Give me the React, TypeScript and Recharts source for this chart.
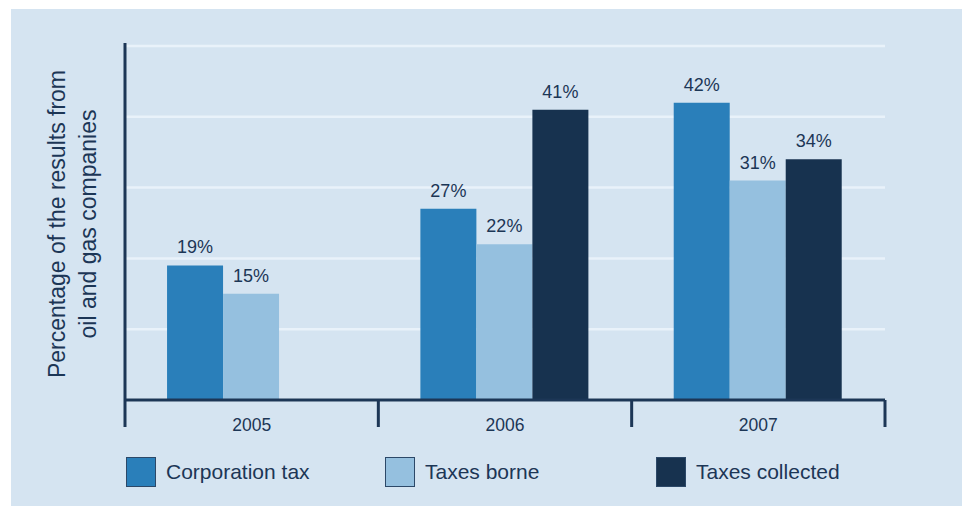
import { BarChart, Bar, XAxis, YAxis, CartesianGrid, LabelList } from 'recharts';

const years = ['2005', '2006', '2007'];
const corporationTax = [19, 27, 42];
const taxesBorne = [15, 22, 31];
const taxesCollected: (number | null)[] = [null, 41, 34];
const yTicks = [0, 10, 20, 30, 40, 50];

const seriesNames = ['Corporation tax', 'Taxes borne', 'Taxes collected'];
const colors = ['#2a7fba', '#95c0df', '#17324f'];

const data = years.map((year, i) => ({
  year,
  corp: corporationTax[i],
  borne: taxesBorne[i],
  collected: taxesCollected[i],
}));

const INK = '#1c3656';
const FONT = '"Liberation Sans", Arial, Helvetica, sans-serif';
const W = 951;
const H = 497;
const PLOT_LEFT = 114;
const PLOT_RIGHT = 874;
const AXIS_Y = 391;
const BAND = (PLOT_RIGHT - PLOT_LEFT) / years.length;

const YearTick = (props: any) => {
  const { x, payload, index } = props;
  return (
    <g>
      {index === 0 && (
        <line x1={x - BAND / 2} x2={x - BAND / 2} y1={34} y2={AXIS_Y + 27} stroke={INK} strokeWidth={3} />
      )}
      <line x1={x + BAND / 2} x2={x + BAND / 2} y1={AXIS_Y} y2={AXIS_Y + 27} stroke={INK} strokeWidth={3} />
      <text x={x} y={AXIS_Y + 31} textAnchor="middle" fontSize={17.5} fill={INK} fontFamily={FONT}>
        {payload.value}
      </text>
    </g>
  );
};

const pct = (v: any) => (v == null ? '' : `${v}%`);

export default function App() {
  const keys = ['corp', 'borne', 'collected'];
  return (
    <div
      style={{
        position: 'absolute',
        left: 11,
        top: 9,
        width: W,
        height: H,
        background: '#d5e4f1',
        fontFamily: FONT,
      }}
    >
      <BarChart
        width={W}
        height={H}
        data={data}
        margin={{ top: 37, right: W - PLOT_RIGHT, left: PLOT_LEFT, bottom: 66 }}
        barGap={0}
        barCategoryGap="16.6%"
      >
        <CartesianGrid vertical={false} horizontalValues={yTicks} stroke="#e9f2fa" strokeWidth={2.5} />
        <YAxis
          width={0}
          domain={[0, 50]}
          ticks={yTicks}
          axisLine={false}
          tickLine={false}
          tick={() => <g />}
        />
        <XAxis
          dataKey="year"
          height={40}
          axisLine={{ stroke: INK, strokeWidth: 3 }}
          tickLine={false}
          tick={<YearTick />}
          interval={0}
        />
        {keys.map((k, i) => (
          <Bar key={k} dataKey={k} fill={colors[i]} isAnimationActive={false}>
            <LabelList
              dataKey={k}
              position="top"
              offset={12}
              formatter={pct}
              style={{ fontSize: 18, fill: INK, fontFamily: FONT }}
            />
          </Bar>
        ))}
      </BarChart>

      <div
        style={{
          position: 'absolute',
          left: 72.5 - 11 - 220,
          top: 224 - 9 - 31,
          width: 440,
          height: 62,
          transform: 'rotate(-90deg)',
          textAlign: 'center',
          fontSize: 23,
          lineHeight: '31px',
          color: INK,
        }}
      >
        Percentage of the results from
        <br />
        oil and gas companies
      </div>

      {seriesNames.map((name, i) => {
        const lefts = [126, 385, 656];
        return (
          <div
            key={name}
            style={{
              position: 'absolute',
              left: lefts[i] - 11,
              top: 456 - 9,
              display: 'flex',
              alignItems: 'center',
              height: 31,
            }}
          >
            <div
              style={{
                width: 28,
                height: 28,
                background: colors[i],
                border: '1.5px solid #2c4868',
              }}
            />
            <span style={{ marginLeft: 10, fontSize: 21, color: INK, whiteSpace: 'nowrap' }}>{name}</span>
          </div>
        );
      })}
    </div>
  );
}
